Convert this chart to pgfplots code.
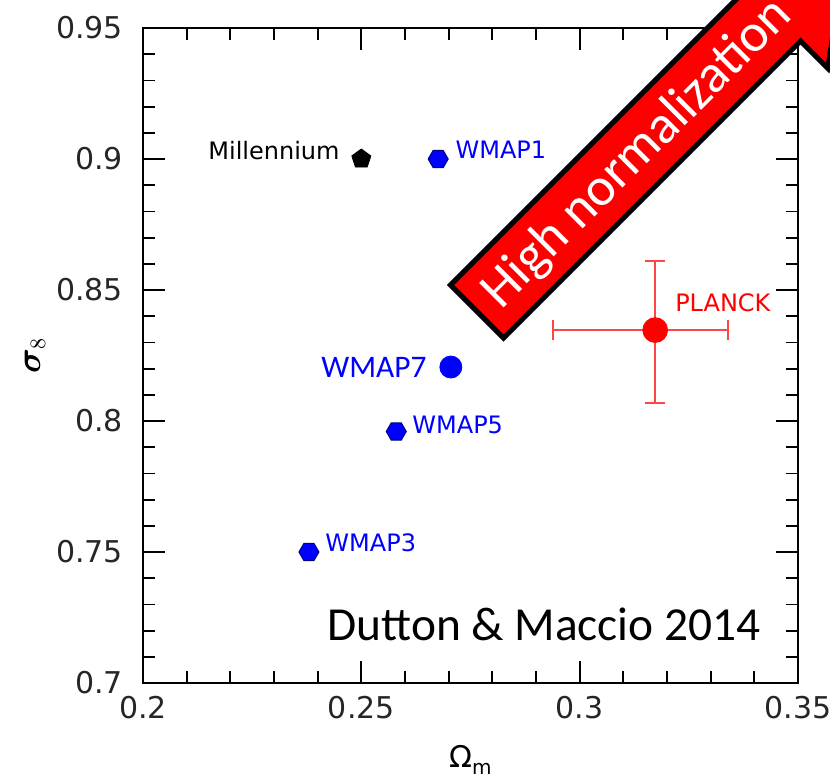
\documentclass[border=0pt]{standalone}
\usepackage{pgfplots}
\pgfplotsset{compat=1.18}
\usepackage{amsmath}
\usepackage{bm}
\usepackage{fontspec}
\setmainfont{DejaVu Sans}
\newfontfamily\calibri{Carlito}
\definecolor{pblue}{RGB}{0,0,255}
\definecolor{pred}{RGB}{255,0,0}
\definecolor{ebred}{RGB}{255,70,70}
\pgfdeclareplotmark{hexagon*}{%
 \pgfpathmoveto{\pgfqpointpolar{0}{\pgfplotmarksize}}%
 \pgfpathlineto{\pgfqpointpolar{60}{\pgfplotmarksize}}%
 \pgfpathlineto{\pgfqpointpolar{120}{\pgfplotmarksize}}%
 \pgfpathlineto{\pgfqpointpolar{180}{\pgfplotmarksize}}%
 \pgfpathlineto{\pgfqpointpolar{240}{\pgfplotmarksize}}%
 \pgfpathlineto{\pgfqpointpolar{300}{\pgfplotmarksize}}%
 \pgfpathclose
 \pgfusepathqfillstroke}
\begin{document}
\begin{tikzpicture}
\useasboundingbox (-71.5pt,-50pt) rectangle (343.5pt,341.5pt);
\begin{axis}[
  at={(0pt,0pt)}, anchor=south west,
  width=327.5pt, height=327.5pt, scale only axis,
  xmin=0.2, xmax=0.35, ymin=0.7, ymax=0.95,
  xtick={0.2,0.25,0.3,0.35}, xticklabels={0.2,0.25,0.3,0.35},
  ytick={0.7,0.75,0.8,0.85,0.9,0.95}, yticklabels={0.7,0.75,0.8,0.85,0.9,0.95},
  minor tick num=4,
  tick align=inside,
  major tick length=11pt, minor tick length=6pt,
  axis line style={line width=1pt},
  every tick/.style={black, line width=0.9pt},
  /pgf/number format/assume math mode=true,
  tick label style={font=\fontsize{15}{18}\selectfont, text=black!85},
  yticklabel style={xshift=-6.5pt},
  xticklabel style={yshift=-3pt},
  xlabel={Ω\raisebox{-0.45ex}{\fontsize{10}{12}\selectfont m}},
  xlabel style={at={(axis description cs:0.5,-0.1176)}, anchor=center, font=\fontsize{15}{18}\selectfont},
  ylabel={$\bm{\sigma}_8$},
  ylabel style={at={(axis description cs:-0.165,0.5)}, anchor=center, font=\fontsize{16}{18}\selectfont},
  clip=false,
]
% Millennium
\addplot[only marks, mark=pentagon*, mark size=5pt, mark options={fill=black, draw=black}]
  coordinates {(0.25,0.900)};
% WMAP 1, 5, 3
\addplot[only marks, mark=hexagon*, mark size=5pt, mark options={fill=pblue, draw=pblue!50!black, line width=0.5pt}]
  coordinates {(0.2676,0.900) (0.258,0.796) (0.238,0.750)};
% WMAP7
\addplot[only marks, mark=*, mark size=5.5pt, mark options={fill=pblue, draw=pblue}]
  coordinates {(0.2705,0.8206)};
% PLANCK
\addplot[only marks, mark=*, mark size=6.2pt, mark options={fill=pred, draw=pred},
  error bars/.cd, x dir=both, x explicit, y dir=both, y explicit,
  error mark options={rotate=90, mark size=5pt, line width=1pt, ebred},
  error bar style={line width=1pt, ebred}]
  coordinates {(0.3173,0.8347) += (0.0167,0.0263) -= (0.0234,0.0278)};
\node[anchor=east, inner sep=0pt, font=\fontsize{12}{14}\selectfont] at (axis cs:0.2451,0.9034) {Millennium};
\node[anchor=west, inner sep=0pt, font=\fontsize{12}{14}\selectfont, text=pblue] at (axis cs:0.2715,0.9034) {WMAP1};
\node[anchor=west, inner sep=0pt, font=\fontsize{12}{14}\selectfont, text=pblue] at (axis cs:0.2616,0.7985) {WMAP5};
\node[anchor=west, inner sep=0pt, font=\fontsize{12}{14}\selectfont, text=pblue] at (axis cs:0.2417,0.7534) {WMAP3};
\node[anchor=west, inner sep=0pt, font=\fontsize{12}{14}\selectfont, text=pred] at (axis cs:0.3218,0.845) {PLANCK};
\node[anchor=east, inner sep=0pt, font=\calibri\fontsize{15.7}{18}\selectfont, text=pblue] at (axis cs:0.2650,0.8206) {WMAP7};
\end{axis}
\node[anchor=base west, inner sep=0pt, font=\calibri\fontsize{23.7}{28}\selectfont] at (92pt,21.5pt) {Dutton \& Maccio 2014};
\begin{scope}
\clip (-71.5pt,-50pt) rectangle (343.5pt,341.5pt);
\begin{scope}[shift={(167pt,185.75pt)}, rotate=45]
\draw[line width=2.5pt, fill=pred, draw=black, line join=miter]
  (0pt,-18.75pt) -- (210pt,-18.75pt) -- (210pt,-38pt) -- (262pt,0pt) -- (210pt,38pt) -- (210pt,18.75pt) -- (0pt,18.75pt) -- cycle;
\node[transform shape, text=white, inner sep=0pt, font=\calibri\fontsize{27}{32}\selectfont] at (112.5pt,-1pt) {High normalization};
\end{scope}
\end{scope}
\end{tikzpicture}
\end{document}
